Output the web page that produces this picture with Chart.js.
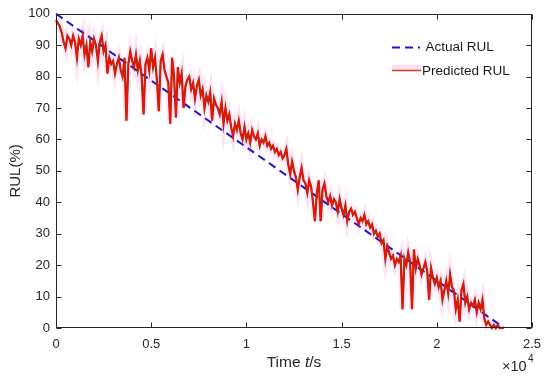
<!DOCTYPE html>
<html><head><meta charset="utf-8">
<script src="https://cdn.jsdelivr.net/npm/chart.js@4.4.0/dist/chart.umd.min.js"></script>
<style>html,body{margin:0;padding:0;background:#fff;}#wrap{width:550px;height:380px;}</style>
</head><body><div id="wrap"><canvas id="c" width="550" height="380"></canvas></div>
<script>
// x values are in units of 10^4 s
const xTickValues = [0, 0.5, 1, 1.5, 2, 2.5];
const yTickValues = [0, 10, 20, 30, 40, 50, 60, 70, 80, 90, 100];
const actualTime = [0, 2.355];
const actualRUL = [100, 0];
const predictedRUL = [
 98, 97, 96, 94, 91, 89, 93, 92, 90, 93,
 91, 86, 92, 90, 93, 87, 90, 83, 91, 88,
 92, 90, 85, 91, 93, 88, 90, 81, 86, 84,
 85, 81, 84, 86, 82, 80, 86, 66, 84, 88,
 85, 83, 87, 82, 85, 80, 68, 84, 86, 82,
 89, 83, 86, 79, 69, 85, 87, 82, 80, 78,
 65, 86, 80, 67, 83, 78, 81, 70, 77, 79,
 80, 76, 78, 73, 77, 79, 74, 76, 70, 74,
 72, 75, 66, 73, 71, 70, 68, 72, 65, 70,
 66, 68, 64, 61, 65, 63, 66, 62, 60, 64,
 60, 62, 59, 63, 61, 60, 62, 58, 60, 59,
 61, 58, 59, 57, 58, 56, 57, 55, 56, 54,
 55, 57, 52, 49, 53, 50, 48, 44, 48, 51,
 47, 46, 43, 47, 45, 40, 34, 43, 47, 34,
 44, 46, 42, 40, 42, 39, 41, 40, 37, 41,
 38, 36, 39, 34, 37, 38, 36, 37, 35, 33,
 35, 34, 36, 33, 34, 32, 33, 30, 31, 29,
 30, 27, 28, 22, 26, 24, 22, 23, 20, 22,
 21, 23, 6, 22, 20, 24, 21, 6, 25, 19,
 22, 20, 17, 19, 21, 18, 9, 19, 16, 14,
 16, 13, 15, 9, 12, 15, 11, 17, 13, 12,
 6, 9, 2, 12, 14, 8, 10, 6, 8, 7,
 9, 5, 8, 6, 9, 3, 1, 2, 1, 0,
 1, 0, 1, 0, 0, 0
];
const sampleStep = 0.01; // sampling interval (x10^4 s)
const predictedTime = predictedRUL.map((_, i) => +(i * sampleStep).toFixed(2));

const toPts = (xs, ys) => xs.map((x, i) => ({x: x, y: ys[i]}));
const predPts = toPts(predictedTime, predictedRUL);
const FONT = "'Liberation Sans', Arial, Helvetica, sans-serif";
const AX = '#262626';

const decor = {
  id: 'decor',
  afterDraw(chart) {
    const {ctx, chartArea: a, scales: {x, y}} = chart;
    ctx.save();
    ctx.strokeStyle = AX; ctx.lineWidth = 1;
    const L = Math.round(a.left) + 0.5, R = Math.round(a.right) - 0.5;
    const T = Math.round(a.top) + 0.5, B = Math.round(a.bottom) - 0.5;
    ctx.strokeRect(L, T, R - L, B - T);
    ctx.beginPath();
    xTickValues.forEach(v => {
      const px = Math.round(x.getPixelForValue(v)) + 0.5;
      ctx.moveTo(px, B); ctx.lineTo(px, B - 5);
      ctx.moveTo(px, T); ctx.lineTo(px, T + 5);
    });
    yTickValues.forEach(v => {
      const py = Math.round(y.getPixelForValue(v)) + 0.5;
      ctx.moveTo(L, py); ctx.lineTo(L + 5, py);
      ctx.moveTo(R, py); ctx.lineTo(R - 5, py);
    });
    ctx.stroke();

    // x-axis title with italic t
    ctx.fillStyle = AX;
    ctx.textBaseline = 'middle';
    const f1 = '15.5px ' + FONT, f2 = 'italic 15.5px ' + FONT;
    const parts = [['Time ', f1], ['t', f2], ['/s', f1]];
    let w = 0;
    parts.forEach(p => { ctx.font = p[1]; w += ctx.measureText(p[0]).width; });
    let cx = (a.left + a.right) / 2 - w / 2;
    ctx.textAlign = 'left';
    parts.forEach(p => { ctx.font = p[1]; ctx.fillText(p[0], cx, 363); cx += ctx.measureText(p[0]).width; });

    // exponent
    ctx.font = '14.5px ' + FONT;
    ctx.fillText('\u00d710', 502, 367);
    ctx.font = '10px ' + FONT;
    ctx.fillText('4', 528, 359);

    // legend
    ctx.font = '13.5px ' + FONT;
    ctx.strokeStyle = '#1f12d0'; ctx.lineWidth = 2; ctx.setLineDash([8, 5]);
    ctx.beginPath(); ctx.moveTo(392, 47.5); ctx.lineTo(420, 47.5); ctx.stroke();
    ctx.setLineDash([]);
    ctx.fillStyle = '#fde0f7';
    ctx.fillRect(392, 65, 29, 5);
    ctx.strokeStyle = '#d8401a'; ctx.lineWidth = 1.5;
    ctx.beginPath(); ctx.moveTo(392, 70.5); ctx.lineTo(421, 70.5); ctx.stroke();
    ctx.fillStyle = '#1a1a1a';
    ctx.fillText('Actual RUL', 425.5, 47.5);
    ctx.fillText('Predicted RUL', 422, 71);
    ctx.restore();
  }
};

new Chart(document.getElementById('c'), {
  type: 'line',
  data: {
    datasets: [
      {label: 'Predicted RUL', data: predPts, borderColor: '#ff0a00', borderWidth: 1.2, pointRadius: 0, tension: 0, order: 1, clip: 2},
      {label: 'Predicted RUL (edge)', data: predPts, borderColor: '#8a3a12', borderWidth: 2.2, pointRadius: 0, tension: 0, order: 2, clip: 2},
      {label: 'Actual RUL', data: toPts(actualTime, actualRUL), borderColor: '#1f12d0', borderWidth: 2, borderDash: [8, 5], pointRadius: 0, tension: 0, order: 3, clip: 2},
      {label: 'Predicted RUL band', data: predPts, borderColor: '#fde2f8', borderWidth: 6, pointRadius: 0, tension: 0, order: 4, clip: 2}
    ]
  },
  options: {
    responsive: false, animation: false, devicePixelRatio: 1,
    layout: {padding: {top: 13, right: 14, left: 0, bottom: 0}},
    plugins: {legend: {display: false}, tooltip: {enabled: false}},
    scales: {
      x: {
        type: 'linear', min: 0, max: 2.5,
        afterBuildTicks: s => { s.ticks = xTickValues.map(v => ({value: v})); },
        ticks: {callback: v => String(v), color: AX, padding: 9, maxRotation: 0, font: {family: FONT, size: 13}},
        grid: {display: false, drawTicks: false},
        border: {display: false},
        afterFit: s => { s.height = 52; }
      },
      y: {
        min: 0, max: 100,
        afterBuildTicks: s => { s.ticks = yTickValues.map(v => ({value: v})); },
        ticks: {callback: v => String(v), color: AX, padding: 6, font: {family: FONT, size: 13}},
        grid: {display: false, drawTicks: false},
        border: {display: false},
        title: {display: true, text: 'RUL(%)', color: AX, font: {family: FONT, size: 15}, padding: {top: 7, bottom: 0}},
        afterFit: s => { s.width = 56; }
      }
    }
  },
  plugins: [decor]
});
</script></body></html>
